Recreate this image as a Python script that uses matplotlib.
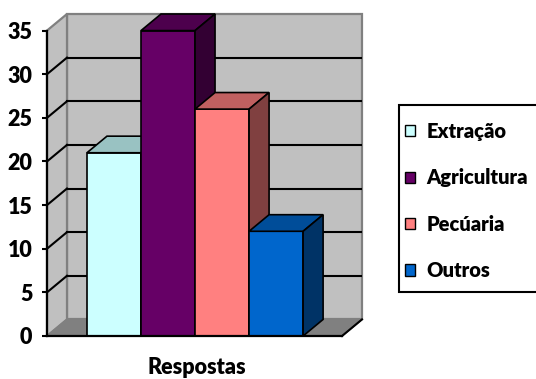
import numpy as np
import matplotlib.pyplot as plt
from matplotlib.patches import Polygon, Patch, Rectangle

# dados
categorias = ['Extração', 'Agricultura', 'Pecúaria', 'Outros']
valores = [21, 35, 26, 12]
yticks = [0, 5, 10, 15, 20, 25, 30, 35]

cor_frente = ['#CCFFFF', '#660066', '#FF8080', '#0066CC']
cor_topo = ['#99C2C2', '#4D004D', '#C06060', '#004D99']
cor_lado = ['#669999', '#330033', '#804040', '#003366']

plt.rcParams['font.family'] = ['Lato', 'DejaVu Sans']
plt.rcParams['font.weight'] = 'heavy'
fs = 15.5

W, H = 536, 379
fig = plt.figure(figsize=(W/100, H/100), dpi=100)
ax = fig.add_axes([47/W, 1-336/H, (362-47)/W, (336-14)/H])

dx, dy = 0.37, 1.9          # falso 3D (profundidade)
xl, xr = -0.24, 5.22        # piso
ymax = 35

ax.set_xlim(xl, xr+dx)
ax.set_ylim(0, ymax+dy)

# paredes
parede_fundo = Polygon([(xl+dx, dy), (xr+dx, dy), (xr+dx, ymax+dy), (xl+dx, ymax+dy)],
                       closed=True, fc='#C0C0C0', ec='#808080', lw=1.6, zorder=0, clip_on=False)
parede_esq = Polygon([(xl, 0), (xl+dx, dy), (xl+dx, ymax+dy), (xl, ymax)],
                     closed=True, fc='#C0C0C0', ec='#808080', lw=1.6, zorder=0, clip_on=False)
piso = Polygon([(xl, 0), (xr, 0), (xr+dx, dy), (xl+dx, dy)],
               closed=True, fc='#808080', ec='#808080', lw=1.2, zorder=0.5, clip_on=False)
for p in (parede_fundo, parede_esq, piso):
    ax.add_patch(p)
ax.plot([xr, xr+dx], [0, dy], color='black', lw=1.5, zorder=0.6, clip_on=False)

# linhas de grade
for v in yticks[1:-1]:
    ax.plot([xl+dx, xr+dx], [v+dy, v+dy], color='black', lw=1.5, zorder=1)
    ax.plot([xl, xl+dx], [v, v+dy], color='black', lw=1.5, zorder=1)

# barras
x = np.arange(1, len(valores)+1)
for i, (xi, v) in enumerate(zip(x, valores)):
    z = 3 + i
    ax.bar(xi, v, width=1.0, color=cor_frente[i], edgecolor='black', lw=1.2, zorder=z)
    l, r = xi-0.5, xi+0.5
    ax.add_patch(Polygon([(l, v), (r, v), (r+dx, v+dy), (l+dx, v+dy)], closed=True,
                         fc=cor_topo[i], ec='black', lw=1.2, zorder=z, clip_on=False))
    ax.add_patch(Polygon([(r, 0), (r+dx, dy), (r+dx, v+dy), (r, v)], closed=True,
                         fc=cor_lado[i], ec='black', lw=1.2, zorder=z, clip_on=False))

# eixos
for s in ['top', 'right']:
    ax.spines[s].set_visible(False)
ax.spines['left'].set_bounds(0, ymax)
ax.spines['bottom'].set_bounds(xl, xr)
ax.spines['left'].set_linewidth(1.6)
ax.spines['bottom'].set_linewidth(1.6)
ax.spines['left'].set_zorder(10)
ax.spines['bottom'].set_zorder(10)
ax.set_xticks([])
ax.set_yticks(yticks)
ax.tick_params(axis='y', direction='out', length=3.5, width=1.5, pad=7, labelsize=fs)
ax.set_facecolor('none')

ax.text((197-47)/315, (336-368)/322, 'Respostas', transform=ax.transAxes,
        ha='center', va='center', fontsize=fs)

# legenda (moldura desenhada a parte, sai pela borda direita como no original)
fig.patches.append(Rectangle((399/W, 1-292/H), 150/W, 187/H, transform=fig.transFigure,
                             fc='white', ec='black', lw=1.5, zorder=0, clip_on=False))
handles = [Patch(facecolor=c, edgecolor='black', lw=1.0) for c in cor_frente]
leg = fig.legend(handles, categorias, loc='upper left', bbox_to_anchor=(405/W, 1-122/H),
                 borderaxespad=0, borderpad=0, fontsize=14.5, handlelength=0.48,
                 handleheight=0.48, handletextpad=0.6, labelspacing=1.36,
                 frameon=False)

fig.savefig('out.png', dpi=100)
